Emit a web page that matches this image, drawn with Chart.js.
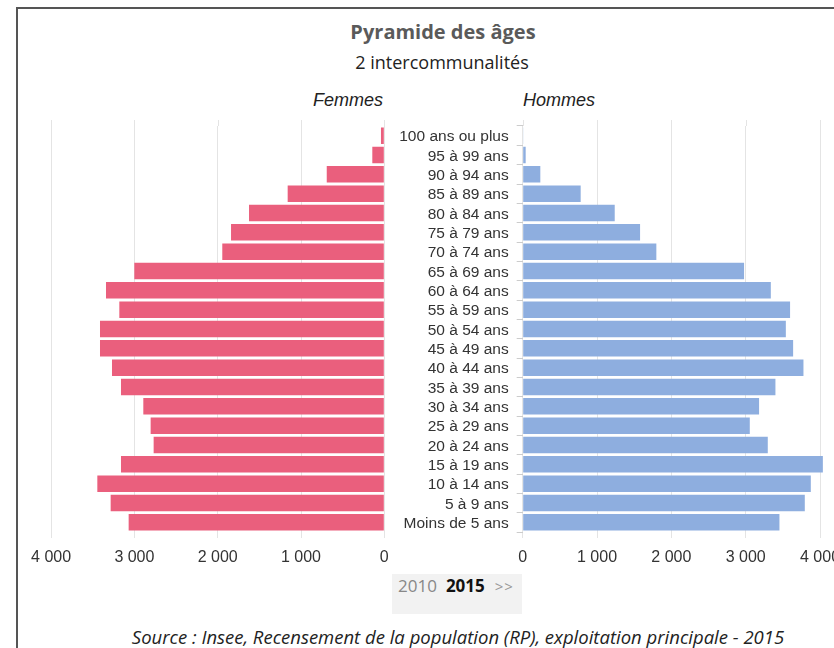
<!DOCTYPE html>
<html lang="fr">
<head>
<meta charset="utf-8">
<title>Pyramide des âges</title>
<script src="https://cdn.jsdelivr.net/npm/chart.js@4.4.1/dist/chart.umd.min.js"></script>
<style>
  html, body { margin: 0; padding: 0; background: #fff; }
  body { width: 834px; height: 648px; overflow: hidden; position: relative; }
  .frame { position: absolute; left: 16px; top: 7px; width: 900px; height: 700px;
           border-top: 2px solid #555; border-left: 2px solid #555; }
  .txt { position: absolute; white-space: nowrap; }
  #title { left: 0; width: 886px; text-align: center; top: 18px; line-height: 20px;
           font: bold 20px "Open Sans", sans-serif; color: #5a5a5a; }
  #subtitle { left: 0; width: 884px; text-align: center; top: 50px; line-height: 18px;
              font: 18px "Open Sans", sans-serif; color: #222; }
  .sex { top: 90px; line-height: 18px; font: italic 18px "Liberation Sans", Arial, sans-serif; color: #222; }
  #femmes { right: 451px; }
  #hommes { left: 523px; }
  #years { left: 392px; top: 574px; width: 124px; height: 40px; padding-left: 6px; background: #f2f2f2;
           line-height: 40px; font: 17px "Open Sans", sans-serif; }
  #years .old { color: #888; }
  #years .cur { color: #111; font-weight: bold; margin: 0 10px 0 9px; }
  #years .next { color: #999; font-size: 15px; letter-spacing: 1px; }
  #source { left: 0; width: 916px; text-align: center; top: 624px; line-height: 18px;
            font: italic 18.5px "Open Sans", sans-serif; color: #222; }
  canvas { position: absolute; }
  #left { left: 0; top: 100px; }
  #right { left: 390px; top: 100px; }
</style>
</head>
<body>
<div class="frame"></div>
<div class="txt" id="title">Pyramide des âges</div>
<div class="txt" id="subtitle">2 intercommunalités</div>
<div class="txt sex" id="femmes">Femmes</div>
<div class="txt sex" id="hommes">Hommes</div>
<canvas id="left" width="400" height="472"></canvas>
<canvas id="right" width="480" height="472"></canvas>
<div class="txt" id="years"><span class="old">2010</span><span class="cur">2015</span><span class="next">&gt;&gt;</span></div>
<div class="txt" id="source">Source : Insee, Recensement de la population (RP), exploitation principale - 2015</div>
<script>
const categories = ['100 ans ou plus', '95 à 99 ans', '90 à 94 ans', '85 à 89 ans', '80 à 84 ans',
  '75 à 79 ans', '70 à 74 ans', '65 à 69 ans', '60 à 64 ans', '55 à 59 ans', '50 à 54 ans',
  '45 à 49 ans', '40 à 44 ans', '35 à 39 ans', '30 à 34 ans', '25 à 29 ans', '20 à 24 ans',
  '15 à 19 ans', '10 à 14 ans', '5 à 9 ans', 'Moins de 5 ans'];
const femmes = [40, 144, 691, 1160, 1624, 1840, 1945, 3001, 3341, 3181, 3413,
  3413, 3269, 3161, 2893, 2805, 2769, 3161, 3445, 3285, 3069];
const hommes = [5, 40, 237, 780, 1238, 1579, 1798, 2978, 3338, 3597, 3540,
  3638, 3777, 3400, 3180, 3055, 3297, 4038, 3876, 3795, 3454];
const tickValues = [0, 1000, 2000, 3000, 4000];

const pink = '#ea5f7d';
const blue = '#8eaedf';
const gridColor = '#e4e4e4';
const sansFont = '"Liberation Sans", Arial, sans-serif';

// "4 000" style labels
const fmt = (v) => String(v).replace(/\B(?=(\d{3})+(?!\d))/g, ' ');

// grid lines start a little above the first bar
const gridTop = {
  id: 'gridTop',
  beforeDatasetsDraw(chart) {
    const { ctx, chartArea, scales } = chart;
    ctx.save();
    ctx.strokeStyle = gridColor;
    ctx.lineWidth = 1;
    scales.x.ticks.forEach(t => {
      const x = Math.round(scales.x.getPixelForValue(t.value)) + 0.5;
      ctx.beginPath();
      ctx.moveTo(x, chartArea.top - 6);
      ctx.lineTo(x, chartArea.top);
      ctx.stroke();
    });
    ctx.restore();
  }
};

function xAxis(reverse, max) {
  return {
    type: 'linear',
    min: 0,
    max: max,
    reverse: reverse,
    afterBuildTicks: (s) => { s.ticks = tickValues.map(v => ({ value: v })); },
    afterFit: (s) => { s.height = 40; s.paddingLeft = 0; s.paddingRight = 0; },
    grid: { color: gridColor, tickColor: gridColor, tickLength: 6, drawTicks: true },
    border: { display: false },
    ticks: { padding: 10, color: '#333', font: { family: sansFont, size: 16 }, callback: fmt, maxRotation: 0 }
  };
}

function barData(values, color) {
  return {
    labels: categories,
    datasets: [{
      data: values,
      backgroundColor: color,
      borderWidth: 0,
      barPercentage: 0.85,
      categoryPercentage: 1
    }]
  };
}

const common = {
  indexAxis: 'y',
  responsive: false,
  animation: false,
  devicePixelRatio: 1,
  plugins: { legend: { display: false }, tooltip: { enabled: false } }
};

new Chart(document.getElementById('left'), {
  type: 'bar',
  data: barData(femmes, pink),
  plugins: [gridTop],
  options: Object.assign({}, common, {
    layout: { padding: { left: 51.1, right: 15.7, top: 26, bottom: 0 } },
    scales: {
      x: xAxis(true, 4000),
      y: { display: false }
    }
  })
});

new Chart(document.getElementById('right'), {
  type: 'bar',
  data: barData(hommes, blue),
  plugins: [gridTop],
  options: Object.assign({}, common, {
    layout: { padding: { left: 0, right: 35.1, top: 26, bottom: 0 } },
    scales: {
      x: xAxis(false, 4200),
      y: {
        afterFit: (s) => { s.width = 132.7; s.paddingTop = 0; s.paddingBottom = 0; },
        grid: { drawOnChartArea: false, drawTicks: true, tickLength: 6, tickColor: '#ccc' },
        border: { display: false },
        ticks: { autoSkip: false, padding: 8, labelOffset: 1.5, color: '#333',
                 font: { family: sansFont, size: 15.5 } }
      }
    }
  })
});
</script>
</body>
</html>
